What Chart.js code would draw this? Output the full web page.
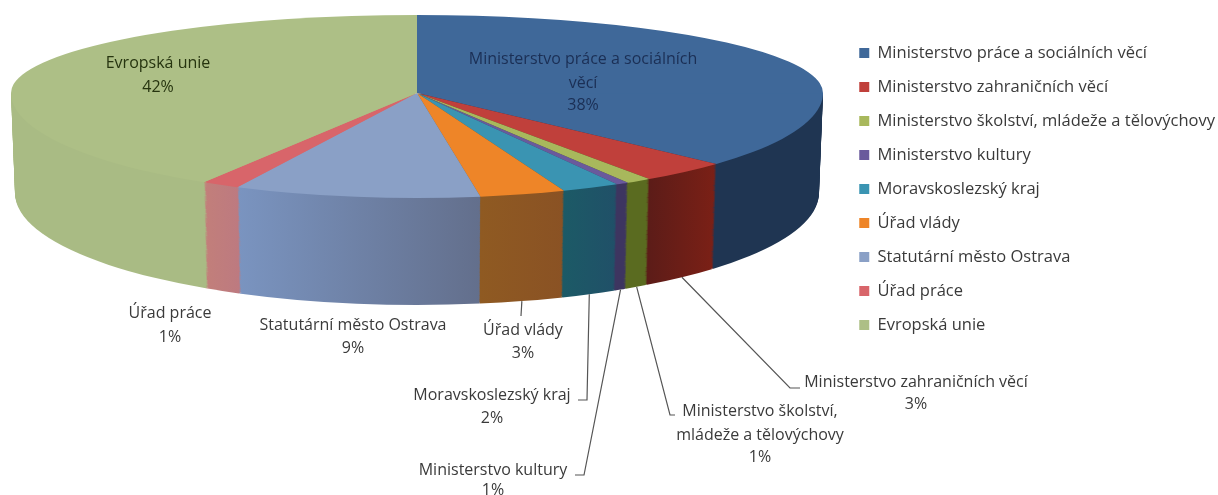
<!DOCTYPE html>
<html lang="cs">
<head>
<meta charset="utf-8">
<style>
html,body{margin:0;padding:0;background:#fff;overflow:hidden}
canvas{display:block;filter:blur(0.7px)}
</style>
<script src="https://cdn.jsdelivr.net/npm/chart.js@4/dist/chart.umd.min.js"></script>
</head>
<body>
<canvas id="c" width="1218" height="495"></canvas>
<script>
const categories = ['Ministerstvo práce a sociálních věcí','Ministerstvo zahraničních věcí','Ministerstvo školství, mládeže a tělovýchovy','Ministerstvo kultury','Moravskoslezský kraj','Úřad vlády','Statutární město Ostrava','Úřad práce','Evropská unie'];
// slice sizes as they look in the picture; the printed percentages follow
const sliceValues = [36.8,3.5,1,0.5,2.3,3.4,9.8,1.5,41.2];
const percentLabels = ['38%','3%','1%','1%','2%','3%','9%','1%','42%'];
const topColors = ['#3f6899','#c0403b','#a8b85c','#6a5a9c','#3a94b2','#ee8528','#8aa0c6','#d8656a','#adbf86'];
const wallLeft  = ['#1f3552','#5c1c18','#5a6b20','#3d3560','#1c5a66','#8f5a22','#7a94c0','#c27f7a','#a9bb84'];
const wallRight = ['#1f3552','#7b2016','#5a6b20','#3d3560','#205068','#8a5224','#636f8c','#bd7a80','#a9bb84'];

// how the disc is viewed
const view = {cx:417, cy:93, rx:406, rxBottom:402, ryBack:78, ryFront:105, ryFrontBottom:112, depth:100};
const FONT = '16px "Open Sans"';
const legendShiftX = 7;
// label layout, in slice order: centre x, middle y of each line, text lines (the percentage is added as last line)
const labelLayout = [
 {x:583, ys:[59,83,105], lines:['Ministerstvo práce a sociálních','věcí'], color:'#1b2f55'},
 {x:916, ys:[382,404], lines:['Ministerstvo zahraničních věcí'], leader:[[790,388],[800,388]]},
 {x:760, ys:[411,435,457], lines:['Ministerstvo školství,','mládeže a tělovýchovy'], leader:[[670,415],[675,415]]},
 {x:493, ys:[470,490], lines:['Ministerstvo kultury'], leader:[[584,475],[575,475]]},
 {x:492, ys:[395,418], lines:['Moravskoslezský kraj'], leader:[[587,400],[578,400]]},
 {x:523, ys:[330,353], lines:['Úřad vlády'], leader:[[521,316]]},
 {x:353, ys:[325,348], lines:['Statutární město Ostrava']},
 {x:170, ys:[313,337], lines:['Úřad práce']},
 {x:158, ys:[63,87], lines:['Evropská unie'], color:'#26340f'}
];

function arcStyle(fill){
  return {backgroundColor:fill,borderColor:fill,borderWidth:0,borderAlign:'center',borderJoinStyle:'round',
          borderRadius:0,circular:true,offset:0,spacing:0,selfJoin:false,borderDash:[],borderDashOffset:0};
}
function drawArc(ctx,arc,fill){
  const clone = Object.create(arc);
  clone.options = arcStyle(fill);
  arc.draw.call(clone,ctx);
}
function drawHalf(ctx,arcs,fills,tx,ty,rx,ry,clipTop,clipBottom){
  const R = arcs[0].outerRadius, ax = arcs[0].x, ay = arcs[0].y;
  ctx.save();
  ctx.beginPath();
  ctx.rect(0,clipTop,ctx.canvas.width,clipBottom-clipTop);
  ctx.clip();
  ctx.translate(tx,ty);
  ctx.scale(rx/R,ry/R);
  ctx.translate(-ax,-ay);
  arcs.forEach((a,i)=>drawArc(ctx,a,fills[i]));
  ctx.restore();
}
const disc3d = {
  id:'disc3d',
  afterLayout(chart){
    chart.legend.left += legendShiftX;
    chart.legend.right += legendShiftX;
  },
  beforeDatasetDraw(chart,args){
    const ctx = chart.ctx, arcs = args.meta.data, v = view;
    const R = arcs[0].outerRadius, ax = arcs[0].x;
    const wallFills = arcs.map((a,i)=>{
      const x1 = ax+R*Math.cos(a.startAngle), x2 = ax+R*Math.cos(a.endAngle);
      const g = ctx.createLinearGradient(Math.min(x1,x2),0,Math.max(x1,x2)+0.01,0);
      g.addColorStop(0,wallLeft[i]); g.addColorStop(1,wallRight[i]);
      return g;
    });
    for(let k=v.depth;k>=1;k--){
      const t = k/v.depth;
      const y = v.cy+k;
      drawHalf(ctx,arcs,wallFills,v.cx,y,v.rx+(v.rxBottom-v.rx)*t,v.ryFront+(v.ryFrontBottom-v.ryFront)*t,y,chart.height);
    }
    const fills = arcs.map((a,i)=>topColors[i]);
    drawHalf(ctx,arcs,fills,v.cx,v.cy,v.rx,v.ryFront,v.cy,chart.height);
    drawHalf(ctx,arcs,fills,v.cx,v.cy,v.rx,v.ryBack,0,v.cy+0.5);
    return false;
  },
  afterDraw(chart){
    const ctx = chart.ctx, v = view, arcs = chart.getDatasetMeta(0).data;
    ctx.save();
    ctx.font = FONT;
    ctx.textAlign = 'center';
    ctx.textBaseline = 'middle';
    labelLayout.forEach((l,i)=>{
      if(l.leader){
        const a = arcs[i], mid = (a.startAngle+a.endAngle)/2;
        ctx.beginPath();
        ctx.moveTo(v.cx+v.rxBottom*Math.cos(mid), v.cy+v.depth+v.ryFrontBottom*Math.sin(mid));
        l.leader.forEach(p=>ctx.lineTo(p[0],p[1]));
        ctx.strokeStyle = '#555';
        ctx.lineWidth = 1.2;
        ctx.stroke();
      }
      ctx.fillStyle = l.color || '#3a3a3a';
      l.lines.concat(percentLabels[i]).forEach((s,j)=>ctx.fillText(s,l.x,l.ys[j]));
    });
    ctx.restore();
  }
};
new Chart(document.getElementById('c'),{
  type:'pie',
  data:{labels:categories,datasets:[{data:sliceValues,backgroundColor:topColors,borderWidth:0,clip:false}]},
  options:{
    responsive:false,animation:false,
    layout:{padding:{bottom:117,right:0}},
    plugins:{
      tooltip:{enabled:false},
      legend:{position:'right',labels:{boxWidth:10,boxHeight:10,padding:17.5,color:'#3a3a3a',font:{family:'"Open Sans"',size:16.5}}}
    }
  },
  plugins:[disc3d]
});
</script>
</body>
</html>
